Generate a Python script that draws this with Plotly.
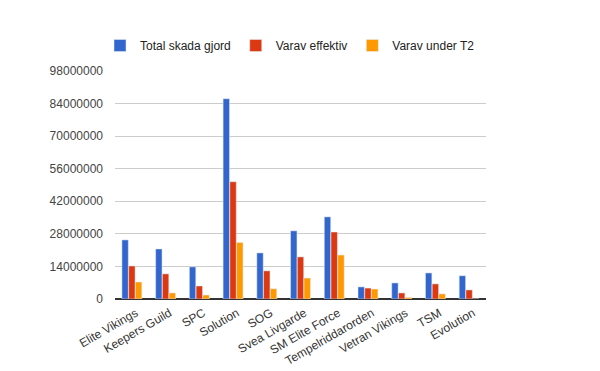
import plotly.graph_objects as go

categories = ["Elite Vikings", "Keepers Guild", "SPC", "Solution", "SOG", "Svea Livgarde",
              "SM Elite Force", "Tempelriddarorden", "Vetran Vikings", "TSM", "Evolution"]
total = [25400000, 21500000, 13800000, 86100000, 19800000, 29300000,
         35300000, 5200000, 6900000, 11200000, 10000000]
effektiv = [14200000, 10800000, 5600000, 50400000, 12100000, 18100000,
            28800000, 4700000, 2600000, 6500000, 3900000]
t2 = [7300000, 2600000, 1700000, 24300000, 4400000, 9000000,
      18900000, 4300000, 700000, 2200000, 0]
tick_vals = [0, 14000000, 28000000, 42000000, 56000000, 70000000, 84000000, 98000000]

fig = go.Figure()
fig.add_trace(go.Bar(name="Total skada gjord", x=categories, y=total, marker_color="#3366cc"))
fig.add_trace(go.Bar(name="Varav effektiv", x=categories, y=effektiv, marker_color="#dc3912"))
fig.add_trace(go.Bar(name="Varav under T2", x=categories, y=t2, marker_color="#ff9900"))

plot_w = 600 - 115 - 114
plot_h = 371 - 71 - 72

fig.update_layout(
    width=600, height=371,
    margin=dict(l=115, r=114, t=71, b=72, autoexpand=False),
    paper_bgcolor="white", plot_bgcolor="white",
    font=dict(family="Liberation Sans, Arial, sans-serif", size=12, color="#222222"),
    barmode="group", bargap=0.4, bargroupgap=0.05,
    showlegend=True,
    legend=dict(orientation="h", x=-15 / plot_w, xanchor="left",
                y=1 + (71 - 45.5) / plot_h, yanchor="middle",
                font=dict(size=12, color="#222222"),
                traceorder="normal", itemwidth=30, bgcolor="rgba(0,0,0,0)"),
)
fig.update_xaxes(tickangle=-30, showgrid=False, showline=False, ticks="", automargin=False,
                 ticklabelstandoff=4, ticklabelshift=4,
                 tickfont=dict(size=12, color="#333333"))
fig.update_yaxes(range=[0, 98000000], tickvals=tick_vals, tickformat="d", automargin=False,
                 ticklabelstandoff=11,
                 showgrid=True, gridcolor="#cccccc", gridwidth=1,
                 zeroline=True, zerolinecolor="#333333", zerolinewidth=2,
                 showline=False, ticks="", tickfont=dict(size=12, color="#444444"))

fig.write_html("out.html", config={"displayModeBar": False},
               post_script="document.body.style.margin='0';document.body.style.padding='0';")
